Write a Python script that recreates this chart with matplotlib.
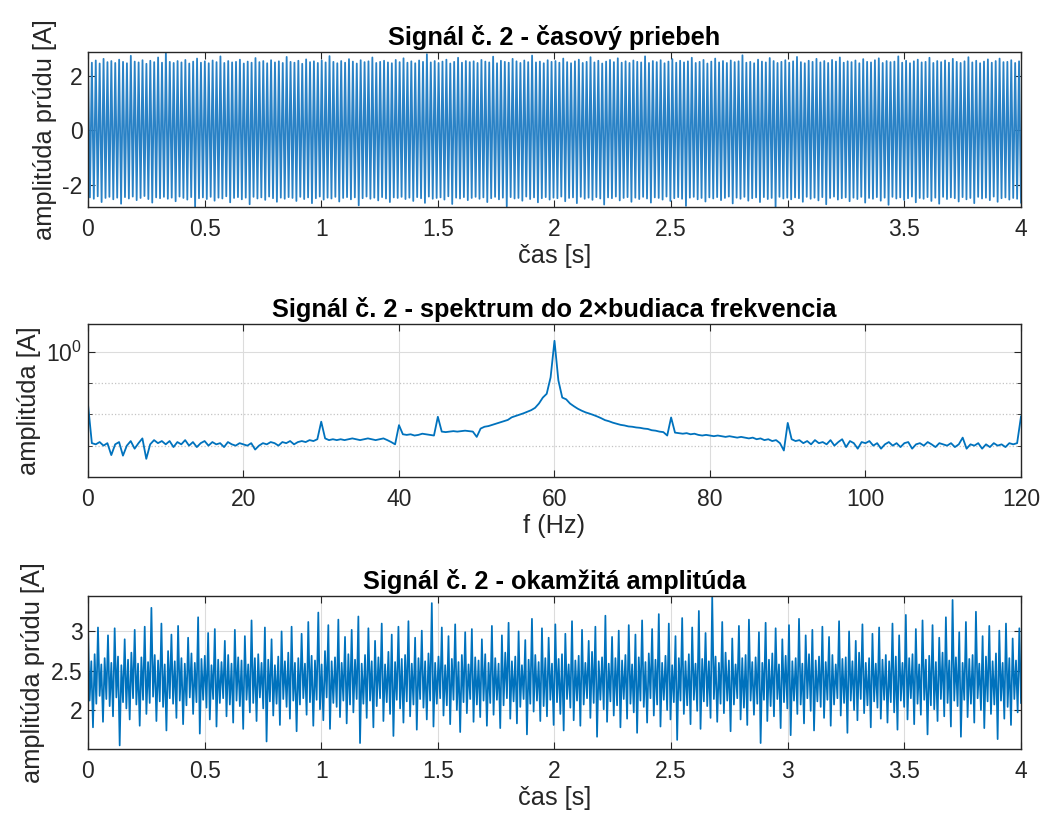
import numpy as np
import matplotlib
matplotlib.use("Agg")
import matplotlib.pyplot as plt
from matplotlib.ticker import FixedLocator, NullFormatter, FuncFormatter

plt.rcParams["font.family"] = ["Liberation Sans", "DejaVu Sans"]
plt.rcParams["mathtext.fontset"] = "custom"
plt.rcParams["mathtext.rm"] = "Liberation Sans"
plt.rcParams["axes.unicode_minus"] = False

LINE = "#0072BD"
DARK = "#262626"

# --- signal 2, time course: positive / negative half-cycle peaks [A] (60 Hz) ---
pos_peaks = [
    2.52, 2.47, 2.55, 2.44, 2.61, 2.49, 2.53, 2.46, 2.58, 2.50, 2.45, 2.72, 2.51, 2.48, 2.56, 2.43, 2.54, 2.49, 2.66, 2.47,
    2.84, 2.50, 2.46, 2.53, 2.48, 2.57, 2.44, 2.51, 2.62, 2.47, 2.52, 2.45, 2.55, 2.49, 2.70, 2.46, 2.53, 2.48, 2.50, 2.58,
    2.44, 2.51, 2.47, 2.64, 2.49, 2.53, 2.45, 2.56, 2.48, 2.52, 2.46, 2.68, 2.50, 2.47, 2.54, 2.43, 2.59, 2.49, 2.52, 2.46,
    2.55, 2.48, 2.71, 2.50, 2.45, 2.53, 2.47, 2.60, 2.51, 2.44, 2.56, 2.49, 2.52, 2.66, 2.46, 2.50, 2.54, 2.48, 2.45, 2.57,
    2.49, 2.63, 2.47, 2.52, 2.45, 2.55, 2.50, 2.78, 2.48, 2.53, 2.46, 2.51, 2.58, 2.44, 2.50, 2.65, 2.47, 2.53, 2.49, 2.52,
    2.46, 2.57, 2.51, 2.48, 2.69, 2.45, 2.54, 2.50, 2.47, 2.61, 2.52, 2.46, 2.55, 2.49, 2.73, 2.48, 2.51, 2.45, 2.56, 2.50,
    2.53, 2.47, 2.62, 2.49, 2.45, 2.52, 2.58, 2.46, 2.50, 2.67, 2.48, 2.54, 2.44, 2.51, 2.57, 2.49, 2.63, 2.47, 2.52, 2.46,
    2.55, 2.50, 2.48, 2.70, 2.46, 2.53, 2.49, 2.56, 2.45, 2.51, 2.60, 2.47, 2.54, 2.48, 2.52, 2.65, 2.46, 2.50, 2.57, 2.44,
    2.51, 2.62, 2.48, 2.53, 2.46, 2.55, 2.49, 2.52, 2.74, 2.47, 2.50, 2.45, 2.58, 2.51, 2.48, 2.64, 2.53, 2.46, 2.50, 2.56,
    2.47, 2.52, 2.68, 2.49, 2.45, 2.54, 2.50, 2.61, 2.48, 2.53, 2.46, 2.57, 2.51, 2.66, 2.47, 2.52, 2.49, 2.55, 2.45, 2.60,
    2.50, 2.48, 2.56, 2.63, 2.46, 2.53, 2.49, 2.51, 2.70, 2.47, 2.54, 2.45, 2.52, 2.58, 2.48, 2.50, 2.65, 2.46, 2.53, 2.49,
    2.55, 2.47, 2.61, 2.50, 2.46, 2.52, 2.67, 2.48, 2.54, 2.45, 2.51, 2.59, 2.47, 2.53, 2.62, 2.49, 2.50, 2.56, 2.46, 2.52,
]
neg_peaks = [
    -2.45, -2.50, -2.41, -2.62, -2.47, -2.43, -2.52, -2.46, -2.68, -2.44, -2.49, -2.42, -2.55, -2.47, -2.40, -2.51, -2.64, -2.45, -2.48, -2.43,
    -2.50, -2.46, -2.59, -2.42, -2.47, -2.53, -2.44, -2.80, -2.48, -2.45, -2.51, -2.43, -2.57, -2.46, -2.49, -2.41, -2.63, -2.47, -2.44, -2.52,
    -2.46, -2.70, -2.43, -2.49, -2.45, -2.54, -2.42, -2.48, -2.61, -2.46, -2.50, -2.44, -2.47, -2.58, -2.43, -2.51, -2.45, -2.66, -2.48, -2.42,
    -2.53, -2.46, -2.49, -2.43, -2.60, -2.47, -2.44, -2.52, -2.45, -2.74, -2.48, -2.42, -2.50, -2.46, -2.56, -2.44, -2.49, -2.62, -2.45, -2.47,
    -2.43, -2.51, -2.46, -2.58, -2.44, -2.48, -2.65, -2.42, -2.50, -2.47, -2.45, -2.53, -2.41, -2.69, -2.46, -2.49, -2.44, -2.55, -2.47, -2.43,
    -2.50, -2.45, -2.62, -2.48, -2.43, -2.52, -2.46, -2.78, -2.44, -2.49, -2.47, -2.57, -2.42, -2.51, -2.45, -2.63, -2.48, -2.44, -2.53, -2.46,
    -2.48, -2.42, -2.59, -2.47, -2.45, -2.66, -2.43, -2.50, -2.46, -2.54, -2.44, -2.49, -2.71, -2.45, -2.48, -2.42, -2.56, -2.47, -2.44, -2.61,
    -2.46, -2.51, -2.43, -2.49, -2.64, -2.45, -2.47, -2.53, -2.42, -2.58, -2.48, -2.44, -2.50, -2.76, -2.46, -2.43, -2.52, -2.47, -2.60, -2.45,
    -2.49, -2.44, -2.55, -2.47, -2.42, -2.67, -2.46, -2.50, -2.43, -2.57, -2.48, -2.45, -2.62, -2.44, -2.51, -2.47, -2.79, -2.43, -2.49, -2.46,
    -2.52, -2.45, -2.48, -2.61, -2.43, -2.50, -2.46, -2.56, -2.44, -2.70, -2.47, -2.42, -2.53, -2.48, -2.45, -2.59, -2.46, -2.51, -2.43, -2.64,
    -2.47, -2.50, -2.44, -2.57, -2.46, -2.72, -2.43, -2.49, -2.45, -2.54, -2.48, -2.42, -2.63, -2.47, -2.50, -2.44, -2.58, -2.46, -2.68, -2.43,
    -2.51, -2.45, -2.48, -2.60, -2.44, -2.52, -2.47, -2.66, -2.43, -2.49, -2.46, -2.55, -2.42, -2.61, -2.48, -2.45, -2.53, -2.47, -2.50, -2.64,
]

# --- amplitude spectrum 0..120 Hz, 0.5 Hz step [A] ---
spec_amp = [
    0.021, 0.0012, 0.0011, 0.0013, 0.0010, 0.0012, 0.00050, 0.0011, 0.0013, 0.00048,
    0.0010, 0.0014, 0.0008, 0.0012, 0.0017, 0.00038, 0.0011, 0.0015, 0.0012, 0.0014,
    0.0011, 0.0014, 0.0009, 0.0013, 0.0011, 0.0015, 0.0010, 0.0013, 0.0009, 0.0012,
    0.0014, 0.0010, 0.0013, 0.0011, 0.0012, 0.0009, 0.0013, 0.0011, 0.0010, 0.0012,
    0.0011, 0.0010, 0.0012, 0.00075, 0.0010, 0.0012, 0.0011, 0.0013, 0.0012, 0.0010,
    0.0013, 0.0012, 0.0014, 0.0011, 0.0013, 0.0014, 0.0013, 0.0015, 0.0014, 0.0016,
    0.0058, 0.0017, 0.0015, 0.0016, 0.0015, 0.0016, 0.0015, 0.0016, 0.0017, 0.0016,
    0.0015, 0.0016, 0.0017, 0.0016, 0.0015, 0.0016, 0.0017, 0.0015, 0.0013, 0.0011,
    0.0045, 0.0023, 0.0022, 0.0023, 0.0021, 0.0022, 0.0024, 0.0023, 0.0022, 0.0021,
    0.0083, 0.0028, 0.0027, 0.0028, 0.0029, 0.0028, 0.0029, 0.0030, 0.0029, 0.0028,
    0.0019, 0.0035, 0.0040, 0.0042, 0.0046, 0.0050, 0.0055, 0.0060, 0.0066, 0.0080,
    0.0088, 0.0097, 0.0107, 0.0120, 0.0135, 0.0160, 0.0220, 0.0340, 0.0450, 0.15,
    2.2, 0.12, 0.034, 0.030, 0.022, 0.018, 0.015, 0.013, 0.0115, 0.0105,
    0.0095, 0.0085, 0.0075, 0.0065, 0.0060, 0.0054, 0.0050, 0.0046, 0.0044, 0.0041,
    0.0040, 0.0038, 0.0037, 0.0035, 0.0034, 0.0031, 0.0030, 0.0028, 0.0027, 0.0021,
    0.0079, 0.0026, 0.0025, 0.0024, 0.0025, 0.0023, 0.0024, 0.0022, 0.0021, 0.0022,
    0.0021, 0.0020, 0.0021, 0.0020, 0.0019, 0.0020, 0.0019, 0.0018, 0.0019, 0.0018,
    0.0017, 0.0018, 0.0016, 0.0017, 0.0015, 0.0016, 0.0014, 0.0015, 0.0012, 0.0007,
    0.0053, 0.0016, 0.0014, 0.0015, 0.0012, 0.0014, 0.0011, 0.0015, 0.0012, 0.0013,
    0.0011, 0.0015, 0.0010, 0.0013, 0.0016, 0.0009, 0.0014, 0.0012, 0.0008, 0.0013,
    0.0012, 0.0014, 0.0010, 0.0012, 0.0008, 0.0011, 0.0013, 0.0010, 0.0012, 0.0009,
    0.0012, 0.0013, 0.0008, 0.0011, 0.0012, 0.0010, 0.0013, 0.0011, 0.0009, 0.0012,
    0.0011, 0.0010, 0.0012, 0.0009, 0.0011, 0.0018, 0.0008, 0.0011, 0.0010, 0.0012,
    0.0008, 0.0011, 0.0009, 0.0012, 0.0010, 0.0011, 0.0009, 0.0012, 0.0011, 0.0012,
    0.0085,
]

# --- instantaneous amplitude: local highs / lows [A] ---
env_hi = [
    3.08, 2.62, 2.71, 3.05, 2.58, 2.66, 2.95, 2.60, 3.04, 2.68, 2.57, 2.90, 2.64, 2.73, 3.02, 2.59, 2.67, 3.06, 2.61, 3.30,
    2.70, 2.63, 3.10, 2.58, 2.75, 2.96, 2.62, 3.07, 2.66, 2.59, 2.92, 2.72, 2.60, 3.18, 2.65, 2.69, 2.98, 2.57, 3.03, 2.64,
    2.61, 2.88, 2.70, 2.59, 3.02, 2.67, 2.63, 2.94, 2.58, 3.14, 2.66, 2.71, 2.60, 3.05, 2.64, 2.90, 2.57, 2.68, 3.00, 2.62,
    2.73, 3.06, 2.60, 2.66, 2.97, 2.59, 3.12, 2.69, 2.63, 3.24, 2.58, 2.75, 3.08, 2.62, 2.67, 3.15, 2.60, 2.93, 2.71, 3.02,
    2.64, 3.19, 2.59, 2.70, 3.04, 2.62, 2.88, 2.67, 3.10, 2.58, 2.74, 2.96, 2.61, 3.06, 2.65, 2.70, 3.13, 2.59, 2.92, 2.66,
    3.01, 2.62, 2.72, 3.36, 2.60, 2.68, 3.05, 2.57, 2.94, 2.65, 3.09, 2.61, 2.70, 2.99, 2.58, 3.03, 2.67, 2.63, 2.90, 2.71,
    2.60, 3.07, 2.66, 2.59, 2.95, 2.73, 3.11, 2.62, 2.68, 3.00, 2.57, 2.89, 2.64, 3.16, 2.70, 2.61, 3.04, 2.66, 2.92, 2.59,
    3.09, 2.65, 2.71, 2.97, 2.58, 3.13, 2.63, 2.69, 3.02, 2.60, 2.88, 2.74, 3.06, 2.62, 2.67, 3.20, 2.59, 2.93, 2.66, 3.01,
    2.63, 2.70, 3.08, 2.58, 2.96, 2.67, 3.14, 2.61, 2.72, 3.03, 2.64, 3.22, 2.60, 2.69, 3.10, 2.57, 2.94, 2.66, 3.17, 2.62,
    2.71, 3.05, 2.59, 3.26, 2.65, 2.98, 2.62, 3.44, 2.68, 2.60, 3.12, 2.73, 2.63, 2.91, 2.58, 3.07, 2.66, 2.70, 3.15, 2.61,
    2.67, 2.99, 2.60, 3.11, 2.64, 2.72, 3.04, 2.58, 2.90, 2.69, 3.08, 2.62, 2.66, 3.16, 2.59, 2.95, 2.71, 3.02, 2.63, 2.68,
    3.06, 2.61, 2.93, 2.70, 2.58, 3.13, 2.65, 2.67, 3.00, 2.62, 2.88, 2.73, 3.09, 2.60, 2.66, 2.97, 2.59, 3.05, 2.64, 2.70,
    2.62, 3.10, 2.68, 2.95, 2.60, 3.21, 2.66, 2.71, 3.03, 2.58, 3.14, 2.64, 2.69, 3.08, 2.61, 2.92, 2.73, 3.18, 2.63, 3.40,
    2.67, 2.99, 2.60, 3.12, 2.65, 2.70, 3.25, 2.59, 2.94, 2.68, 3.07, 2.62, 2.72, 3.01, 2.60, 3.10, 2.66, 2.91, 2.63, 3.04,
]
env_lo = [
    2.12, 1.78, 2.08, 2.18, 1.85, 2.14, 2.05, 1.92, 2.16, 1.55, 2.10, 2.02, 1.88, 2.15, 2.07, 1.80, 2.13, 1.95, 2.09, 2.17,
    1.86, 2.11, 2.04, 1.74, 2.15, 2.08, 1.90, 2.12, 1.82, 2.06, 2.16, 1.95, 2.10, 1.70, 2.13, 2.03, 1.88, 2.14, 1.79, 2.09,
    2.15, 1.92, 2.07, 1.84, 2.12, 2.05, 1.76, 2.13, 1.97, 2.09, 1.86, 2.16, 2.02, 1.60, 2.11, 1.93, 2.08, 1.81, 2.14, 2.04,
    1.89, 2.12, 1.73, 2.07, 2.15, 1.94, 2.10, 1.80, 2.13, 2.01, 1.87, 2.16, 1.76, 2.09, 2.04, 1.91, 2.12, 1.83, 2.07, 1.97,
    2.14, 1.58, 2.08, 1.90, 2.12, 1.78, 2.05, 2.15, 1.86, 2.10, 1.95, 1.67, 2.13, 2.02, 1.84, 2.11, 1.92, 2.07, 1.75, 2.14,
    2.03, 1.88, 2.12, 1.79, 2.08, 2.15, 1.93, 2.06, 1.82, 2.13, 2.00, 1.72, 2.10, 1.96, 2.14, 1.85, 2.07, 1.91, 2.12, 1.80,
    2.09, 1.94, 2.13, 1.77, 2.06, 2.15, 1.89, 2.11, 1.83, 2.04, 2.14, 1.69, 2.08, 1.98, 2.12, 1.86, 2.05, 1.92, 2.13, 1.81,
    2.10, 1.95, 1.74, 2.14, 2.03, 1.87, 2.12, 1.80, 2.07, 2.15, 1.90, 2.09, 1.66, 2.13, 2.01, 1.85, 2.11, 1.93, 2.06, 1.78,
    2.14, 1.89, 2.08, 1.97, 1.71, 2.12, 2.04, 1.84, 2.15, 1.93, 2.07, 1.79, 2.13, 2.00, 1.88, 2.10, 1.62, 2.12, 1.95, 2.06,
    1.82, 2.13, 1.99, 1.76, 2.11, 2.05, 1.90, 2.14, 1.85, 2.08, 1.96, 2.12, 1.73, 2.07, 2.15, 1.88, 2.03, 1.81, 2.12, 1.94,
    2.08, 1.58, 2.13, 1.86, 2.05, 1.92, 2.14, 1.77, 2.10, 2.02, 1.68, 2.12, 1.95, 2.07, 1.83, 2.15, 1.99, 1.74, 2.11, 2.04,
    1.90, 2.13, 1.80, 2.07, 2.15, 1.93, 2.09, 1.71, 2.12, 2.00, 1.87, 2.14, 1.96, 2.06, 1.78, 2.11, 2.03, 1.89, 2.13, 1.84,
    2.10, 1.97, 1.75, 2.12, 2.04, 1.88, 2.15, 1.82, 2.08, 1.94, 2.13, 1.69, 2.06, 2.01, 1.86, 2.14, 1.92, 2.09, 1.79, 2.12,
    2.05, 1.66, 2.13, 1.91, 2.08, 1.84, 2.15, 2.00, 1.77, 2.11, 1.95, 2.07, 1.63, 2.12, 1.89, 2.04, 1.81, 2.14, 1.97, 2.09,
]

time_ticks = [0, 0.5, 1, 1.5, 2, 2.5, 3, 3.5, 4]
freq_ticks = [0, 20, 40, 60, 80, 100, 120]


def interleave(a, b):
    out = np.empty(len(a) + len(b))
    out[0::2] = a
    out[1::2] = b
    return out


def style_axes(ax):
    ax.tick_params(direction="in", length=5, width=0.8, colors=DARK,
                   labelsize=16.5, top=True, right=True)
    ax.tick_params(axis="x", pad=8)
    ax.tick_params(axis="y", pad=4)
    for s in ax.spines.values():
        s.set_color(DARK)
        s.set_linewidth(1.0)


fmt_g = FuncFormatter(lambda v, p: f"{v:g}")
TITLE_KW = dict(fontsize=18.3, fontweight="bold", pad=5, color="black")
LABEL_KW = dict(fontsize=18.3, color=DARK)

fig = plt.figure(figsize=(10.46, 8.22), dpi=100)
left, width = 0.0841, 0.892

# 1) time course
ax1 = fig.add_axes([left, 0.7482, width, 0.1882])
sig = interleave(pos_peaks, neg_peaks)
t_sig = np.linspace(0, 4, len(sig))
ax1.plot(t_sig, sig, color="#2a82c6", lw=1.3)
ax1.set_xlim(0, 4)
ax1.set_ylim(-2.8, 2.85)
ax1.set_xticks(time_ticks)
ax1.set_yticks([-2, 0, 2])
ax1.xaxis.set_major_formatter(fmt_g)
ax1.set_title("Signál č. 2 - časový priebeh", **TITLE_KW)
ax1.set_xlabel("čas [s]", labelpad=2, **LABEL_KW)
ax1.set_ylabel("amplitúda prúdu [A]", labelpad=4, **LABEL_KW)
style_axes(ax1)

# 2) spectrum
ax2 = fig.add_axes([left, 0.4197, width, 0.1867])
freqs = np.linspace(0, 120, len(spec_amp))
ax2.plot(freqs, spec_amp, color=LINE, lw=1.3)
ax2.set_yscale("log")
ax2.set_xlim(0, 120)
ax2.set_ylim(1e-4, 7.8)
ax2.set_xticks(freq_ticks)
ax2.yaxis.set_major_locator(FixedLocator([1.0]))
ax2.yaxis.set_major_formatter(FuncFormatter(lambda v, p: r"$\mathregular{10^{0}}$"))
ax2.yaxis.set_minor_locator(FixedLocator([1e-3, 1e-2, 1e-1]))
ax2.yaxis.set_minor_formatter(NullFormatter())
ax2.grid(True, which="major", color="#dcdcdc", lw=0.8)
ax2.grid(True, which="minor", axis="y", color="#c4c4c4", lw=0.9, linestyle=":")
ax2.set_axisbelow(True)
ax2.tick_params(which="minor", direction="in", length=3, colors=DARK, right=True)
ax2.set_title("Signál č. 2 - spektrum do 2×budiaca frekvencia", **TITLE_KW)
ax2.set_xlabel("f (Hz)", labelpad=2, **LABEL_KW)
ax2.set_ylabel("amplitúda [A]", labelpad=4, **LABEL_KW)
style_axes(ax2)

# 3) instantaneous amplitude
ax3 = fig.add_axes([left, 0.0884, width, 0.1865])
env = interleave(env_hi, env_lo)
t_env = np.linspace(0, 4, len(env))
ax3.plot(t_env, env, color=LINE, lw=1.25)
ax3.set_xlim(0, 4)
ax3.set_ylim(1.5, 3.45)
ax3.set_xticks(time_ticks)
ax3.set_yticks([2, 2.5, 3])
ax3.xaxis.set_major_formatter(fmt_g)
ax3.yaxis.set_major_formatter(fmt_g)
ax3.grid(True, color="#dcdcdc", lw=0.8)
ax3.set_axisbelow(True)
ax3.set_title("Signál č. 2 - okamžitá amplitúda", **TITLE_KW)
ax3.set_xlabel("čas [s]", labelpad=2, **LABEL_KW)
ax3.set_ylabel("amplitúda prúdu [A]", labelpad=4, **LABEL_KW)
style_axes(ax3)

fig.savefig("out.png", dpi=100)
